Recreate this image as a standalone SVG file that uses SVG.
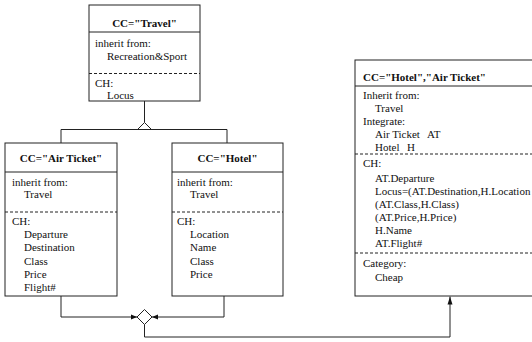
<svg xmlns="http://www.w3.org/2000/svg" width="532" height="342" viewBox="0 0 532 342" font-family="'Liberation Serif', 'Times New Roman', 'DejaVu Serif', serif">
<style>
.box{fill:#fff;stroke:#222;stroke-width:1}
.sep{stroke:#222;stroke-width:1}
.dash{stroke:#222;stroke-width:1;stroke-dasharray:3 2}
.ln{fill:none;stroke:#222;stroke-width:1}
text{font-family:'Liberation Serif','Times New Roman','DejaVu Serif',serif;font-size:11px;fill:#111}
.h{font-weight:bold;text-anchor:middle}
.hl{font-weight:bold}
</style>
<defs>
<marker id="tip" viewBox="0 0 6 6" refX="6" refY="3" markerWidth="6" markerHeight="6" markerUnits="userSpaceOnUse" orient="auto">
<path d="M0,0.5 L6,3 L0,5.5 Z" fill="#111"/>
</marker>
<marker id="arr" viewBox="0 0 8 6" refX="8" refY="3" markerWidth="8" markerHeight="6" markerUnits="userSpaceOnUse" orient="auto">
<path d="M0,0.5 L8,3 L0,5.5 Z" fill="#111"/>
</marker>
</defs>
<g id="connectors">
<line class="ln" x1="144.5" y1="101" x2="144.5" y2="122.5"/>
<polygon points="144.5,122.5 137.5,129.5 151.5,129.5" fill="#fff" stroke="#222" stroke-width="1"/>
<polyline class="ln" points="61,143 61,129.5 227,129.5 227,143"/>
<polyline class="ln" points="61,296 61,317 137,317" marker-end="url(#tip)"/>
<polyline class="ln" points="224,296 224,317 152,317" marker-end="url(#tip)"/>
<polygon points="144.5,309.5 152,317 144.5,324.5 137,317" fill="#fff" stroke="#222" stroke-width="1"/>
<polyline class="ln" points="144.5,324.5 144.5,337 450,337 450,296.5" marker-end="url(#arr)"/>
</g>
<g id="travel">
<rect class="box" x="89" y="5" width="111" height="96"/>
<line class="sep" x1="89" y1="32" x2="200" y2="32"/>
<line class="dash" x1="89" y1="73.5" x2="200" y2="73.5"/>
<text class="h" x="144.5" y="27">CC="Travel"</text>
<text x="95" y="46.5">inherit from:</text>
<text x="107" y="60">Recreation&amp;Sport</text>
<text x="95" y="86.5">CH:</text>
<text x="107" y="99">Locus</text>
</g>
<g id="airticket">
<rect class="box" x="5" y="143" width="112" height="153"/>
<line class="sep" x1="5" y1="172" x2="117" y2="172"/>
<line class="dash" x1="5" y1="212" x2="117" y2="212"/>
<text class="h" x="61" y="162">CC="Air Ticket"</text>
<text x="12" y="185.5">inherit from:</text>
<text x="24" y="198">Travel</text>
<text x="12" y="225">CH:</text>
<text x="24" y="238">Departure</text>
<text x="24" y="251">Destination</text>
<text x="24" y="264.5">Class</text>
<text x="24" y="277.5">Price</text>
<text x="24" y="291">Flight#</text>
</g>
<g id="hotel">
<rect class="box" x="172" y="143" width="111" height="153"/>
<line class="sep" x1="172" y1="172" x2="283" y2="172"/>
<line class="dash" x1="172" y1="212" x2="283" y2="212"/>
<text class="h" x="227.5" y="162">CC="Hotel"</text>
<text x="177" y="185.5">inherit from:</text>
<text x="190" y="198">Travel</text>
<text x="177" y="225">CH:</text>
<text x="190" y="238">Location</text>
<text x="190" y="251">Name</text>
<text x="190" y="264.5">Class</text>
<text x="190" y="277.5">Price</text>
</g>
<g id="merged">
<rect class="box" x="355" y="60" width="190" height="236"/>
<line class="sep" x1="355" y1="86" x2="545" y2="86"/>
<line class="dash" x1="355" y1="154" x2="545" y2="154"/>
<line class="dash" x1="355" y1="253" x2="545" y2="253"/>
<text class="hl" x="363" y="81">CC="Hotel","Air Ticket"</text>
<text x="363" y="99">Inherit from:</text>
<text x="375" y="112">Travel</text>
<text x="363" y="125">Integrate:</text>
<text y="138"><tspan x="375">Air Ticket</tspan><tspan x="427">AT</tspan></text>
<text y="151"><tspan x="375">Hotel</tspan><tspan x="407">H</tspan></text>
<text x="363" y="167">CH:</text>
<text x="375" y="182">AT.Departure</text>
<text x="375" y="195">Locus=(AT.Destination,H.Location</text>
<text x="375" y="208">(AT.Class,H.Class)</text>
<text x="375" y="221">(AT.Price,H.Price)</text>
<text x="375" y="234">H.Name</text>
<text x="375" y="247">AT.Flight#</text>
<text x="363" y="267">Category:</text>
<text x="375" y="281">Cheap</text>
</g>
</svg>
